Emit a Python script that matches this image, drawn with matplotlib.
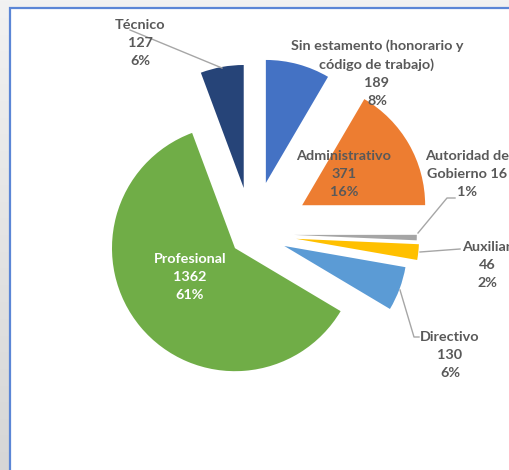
import numpy as np
import matplotlib
matplotlib.use("Agg")
import matplotlib.pyplot as plt
from matplotlib.patches import Rectangle

# data (clockwise from 12 o'clock)
names = ["Sin estamento (honorario y\ncódigo de trabajo)", "Administrativo",
         "Autoridad de\nGobierno", "Auxiliar", "Directivo", "Profesional", "Técnico"]
values = [189, 371, 16, 46, 130, 1362, 127]
pcts = ["8%", "16%", "1%", "2%", "6%", "61%", "6%"]
colors = ["#4472C4", "#ED7D31", "#A5A5A5", "#FFC000", "#5B9BD5", "#70AD47", "#264478"]
explode = [0.43, 0.47, 0.34, 0.36, 0.28, 0.18, 0.38]

W, H = 509, 470
fig = plt.figure(figsize=(W / 100, H / 100), dpi=100)

# grey gradient behind the chart frame
bg = fig.add_axes([0, 0, 1, 1])
grad = np.linspace(0, 1, 256).reshape(-1, 1)
bg.imshow(grad, aspect="auto", cmap=matplotlib.colors.LinearSegmentedColormap.from_list(
    "g", ["#f2f2f2", "#d6d6d6"]), extent=[0, 1, 0, 1], origin="upper")
bg.axis("off")

ax = fig.add_axes([0, 0, 1, 1])
ax.patch.set_alpha(0)
ax.add_patch(Rectangle((10, -20), 600, H - 8 + 20, facecolor="white",
                       edgecolor="#5B86D6", linewidth=1.6))

R = 123
cx, cy = 252, H - 234
wedges, _ = ax.pie(values, colors=colors, explode=[e * R for e in explode],
                   startangle=90, counterclock=False, radius=R, center=(cx, cy),
                   wedgeprops=dict(linewidth=0))
ax.set_xlim(0, W)
ax.set_ylim(0, H)
ax.set_aspect("auto")
ax.axis("off")

font = dict(family="Lato", fontweight="bold", fontsize=10.4, color="#595959",
            ha="center", va="center", linespacing=1.6)

def lab(x, y, s, **kw):
    d = dict(font)
    d.update(kw)
    ax.text(x, H - y, s, **d)

lab(140, 43, "Técnico\n%d\n%s" % (values[6], pcts[6]))
lab(377, 73, "%s\n%d\n%s" % (names[0], values[0], pcts[0]))
lab(344, 174, "%s\n%d\n%s" % (names[1], values[1], pcts[1]))
lab(467, 174, "%s %d\n%s" % (names[2], values[2], pcts[2]))
lab(487, 265, "%s\n%d\n%s" % (names[3], values[3], pcts[3]))
lab(450, 355, "%s\n%d\n%s" % (names[4], values[4], pcts[4]))
lab(190, 277, "%s\n%d\n%s" % (names[5], values[5], pcts[5]), color="white")

# leader lines
leaders = [
    [(130, 30), (222, 68)],
    [(455, 198), (447, 198), (418, 233)],
    [(420, 252), (460, 249)],
    [(400, 290), (414, 337), (419, 337)],
]
for pts in leaders:
    xs = [p[0] for p in pts]
    ys = [H - p[1] for p in pts]
    ax.plot(xs, ys, color="#A6A6A6", lw=1)

fig.savefig("out.png", dpi=100)
